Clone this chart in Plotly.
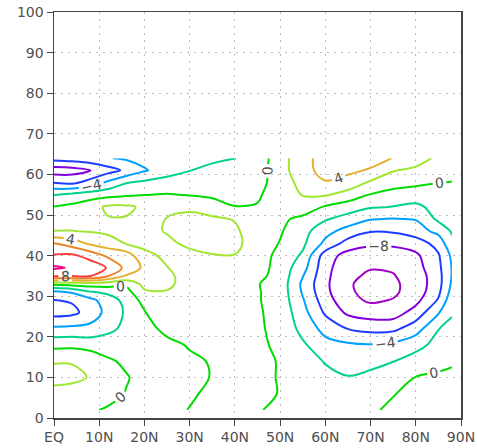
import plotly.graph_objects as go

# Grid coordinates (latitude, vertical level)
lat = [0, 4, 8, 12, 16, 20, 25, 30, 35, 40, 45, 50, 55, 60, 65, 70, 75, 80, 85, 88]
lev = [2, 6, 10, 14, 18, 22, 26, 29, 31, 33, 35, 37, 40, 43, 46, 49, 52, 55, 58, 61, 64]

# Field values, one row per level
z_rows = [
    [1.0, 0.6, 0.2, -0.2, -0.4, -0.6, -0.4, 0.05, 0.3, 0.6, 0.1, -0.3, -0.6, -0.9, -0.9, -0.3, 0.4, 1.0, 1.3, 1.4],
    [1.5, 1.3, 1.2, 0.6, -0.1, -0.7, -0.5, -0.2, 0.3, 0.6, 0.3, -0.05, -0.8, -1.2, -1.4, -0.9, -0.1, 0.6, 0.9, 1.0],
    [2.5, 2.4, 1.9, 1.1, 0.15, -0.7, -0.4, -0.3, 0.05, 0.6, 0.4, -0.1, -1.0, -1.6, -1.9, -1.5, -1.0, 0.05, 0.3, 0.5],
    [1.9, 1.9, 1.4, 0.3, -0.4, -0.7, -0.3, -0.2, 0.08, 0.7, 0.4, -0.1, -1.3, -2.1, -2.9, -2.6, -2.05, -1.2, -0.6, -0.3],
    [-0.6, -0.5, -0.8, -1.1, -1.2, -0.6, -0.3, 0.1, 0.5, 0.8, 0.3, -0.3, -1.7, -3.3, -3.7, -3.9, -3.5, -2.6, -1.4, -1.0],
    [-3.6, -3.5, -3.4, -2.4, -1.6, -0.4, 0.3, 0.6, 0.9, 1.0, 0.25, -0.5, -2.6, -4.7, -6.05, -6.6, -6.5, -4.9, -2.05, -1.5],
    [-6.8, -6.5, -5.2, -3.3, -1.7, -0.1, 1.0, 1.0, 1.1, 1.1, 0.2, -0.6, -3.3, -6.3, -8.4, -9.0, -9.0, -7.2, -4.2, -2.2],
    [-6.05, -5.8, -4.6, -2.9, -1.4, 0.7, 1.6, 1.2, 1.2, 1.2, 0.15, -0.8, -3.8, -7.1, -9.4, -10.3, -9.9, -8.6, -5.8, -2.7],
    [-4.5, -3.8, -2.2, -1.6, -0.7, 1.7, 1.9, 1.3, 1.3, 1.3, 0.15, -0.8, -4.2, -7.5, -9.7, -10.6, -10.3, -9.2, -6.4, -3.3],
    [0.5, 0.8, 1.0, 0.9, 0.4, 2.6, 2.3, 1.4, 1.3, 1.3, 0.1, -0.8, -4.4, -7.6, -9.8, -10.6, -10.3, -9.3, -6.7, -3.7],
    [8.3, 8.2, 8.1, 6.05, 3.8, 3.4, 2.3, 1.4, 1.4, 1.4, 0.5, -0.7, -3.9, -7.5, -9.6, -10.3, -10.1, -9.2, -6.7, -3.9],
    [10.3, 9.8, 9.3, 7.8, 5.4, 3.6, 2.05, 1.4, 1.4, 1.4, 0.9, -0.8, -3.2, -7.4, -9.3, -9.9, -9.8, -8.8, -6.5, -3.9],
    [8.2, 8.4, 7.2, 5.6, 5.0, 2.5, 1.6, 1.6, 1.9, 1.95, 1.0, -0.6, -2.3, -7.0, -8.8, -9.4, -9.3, -8.4, -6.2, -3.6],
    [6.05, 5.0, 3.7, 2.9, 1.9, 1.5, 1.7, 2.3, 2.7, 2.4, 1.2, -0.1, -1.6, -4.5, -6.8, -7.6, -7.5, -7.0, -5.3, -2.4],
    [2.05, 2.05, 1.9, 1.6, 1.5, 1.6, 2.1, 2.7, 2.8, 2.3, 1.0, 0.2, -1.3, -3.3, -4.8, -5.9, -5.8, -5.0, -3.4, -1.8],
    [1.0, 1.2, 1.5, 1.9, 1.9, 1.6, 2.05, 2.4, 2.3, 1.9, 1.0, 0.4, -0.5, -1.8, -2.8, -3.9, -4.1, -3.9, -1.6, -1.5],
    [0.05, 0.5, 1.3, 2.3, 2.3, 1.7, 1.6, 1.7, 1.0, 0.05, 0.1, 1.2, 1.2, -0.2, -1.0, -1.8, -2.05, -2.25, -1.6, -1.4],
    [-2.05, -1.5, -1.0, -0.6, -0.3, -0.05, 0.1, -0.1, -0.4, -0.6, -0.2, 0.8, 2.1, 2.2, 1.2, -0.1, -0.9, -1.4, -1.5, -1.3],
    [-6.05, -6.5, -5.2, -3.6, -2.1, -1.6, -1.1, -0.9, -0.8, -0.6, -0.5, 0.7, 2.8, 3.9, 3.3, 1.7, 1.0, 0.6, 0.05, -0.1],
    [-9.0, -8.8, -8.1, -6.8, -5.6, -4.2, -3.0, -2.05, -1.6, -1.2, -0.8, 1.0, 3.5, 4.5, 4.4, 3.8, 2.1, 1.6, 1.2, 1.0],
    [-5.3, -5.0, -4.6, -4.1, -3.7, -3.3, -2.9, -2.6, -2.3, -2.05, -1.0, 1.0, 3.5, 4.6, 5.0, 4.8, 3.95, 2.9, 1.6, 1.2],
]

x_tick_vals = [0, 10, 20, 30, 40, 50, 60, 70, 80, 90]
x_tick_text = ["EQ", "10N", "20N", "30N", "40N", "50N", "60N", "70N", "80N", "90N"]
y_tick_vals = [0, 10, 20, 30, 40, 50, 60, 70, 80, 90, 100]

# GrADS-like rainbow colours per contour level
level_colors = {
    -10: "rgb(160,0,200)", -8: "rgb(130,0,220)", -6: "rgb(30,60,255)",
    -4: "rgb(0,160,255)", -2: "rgb(0,210,140)", 0: "rgb(0,220,0)",
    2: "rgb(160,230,50)", 4: "rgb(230,175,45)", 6: "rgb(240,130,40)",
    8: "rgb(250,60,60)", 10: "rgb(240,0,130)",
}

plain_levels = [-10, -6, -2, 2, 6, 10]
label_levels = [-8, -4, 0, 4, 8]


def scale_for(levels):
    n = len(levels) - 1
    return [[i / n, level_colors[v]] for i, v in enumerate(levels)]


FONT = "DejaVu Sans"
TXT = "#505050"

fig = go.Figure()
fig.add_trace(go.Contour(
    x=lat, y=lev, z=z_rows,
    autocontour=False,
    contours=dict(coloring="lines", start=plain_levels[0], end=plain_levels[-1], size=4, showlabels=False),
    colorscale=scale_for(plain_levels),
    line=dict(width=2, smoothing=1.0),
    showscale=False, hoverinfo="skip",
))
fig.add_trace(go.Contour(
    x=lat, y=lev, z=z_rows,
    autocontour=False,
    contours=dict(coloring="lines", start=label_levels[0], end=label_levels[-1], size=4, showlabels=True,
                  labelfont=dict(family=FONT, size=14, color=TXT)),
    colorscale=scale_for(label_levels),
    line=dict(width=2, smoothing=1.0),
    showscale=False, hoverinfo="skip",
))

axis_common = dict(
    ticks="outside", ticklen=6, tickcolor="#444", tickwidth=1,
    showline=True, linecolor="#444", linewidth=1.5, mirror=True,
    showgrid=True, gridcolor="#bdbdbd", gridwidth=1, griddash="2px,5px",
    zeroline=False, automargin=False,
    tickfont=dict(family=FONT, size=14, color=TXT),
)

fig.update_layout(
    width=477, height=448,
    margin=dict(l=54, r=16, t=12, b=30),
    paper_bgcolor="white", plot_bgcolor="white",
    showlegend=False,
    xaxis=dict(range=[0, 90], tickmode="array", tickvals=x_tick_vals, ticktext=x_tick_text, **axis_common),
    yaxis=dict(range=[0, 100], tickmode="array", tickvals=y_tick_vals, **axis_common),
)

fig.write_html(
    "out.html",
    config={"displayModeBar": False, "staticPlot": True},
    post_script="document.body.style.margin='0';document.body.style.overflow='hidden';",
)
